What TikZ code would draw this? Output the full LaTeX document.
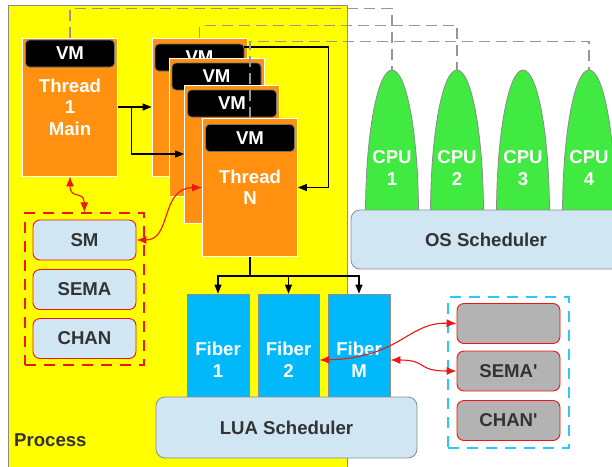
\documentclass[tikz,border=0pt]{standalone}
\usepackage{fontspec}
\setmainfont{Liberation Sans}
\usetikzlibrary{arrows.meta,shapes.geometric,calc}
\definecolor{procYellow}{RGB}{255,255,0}
\definecolor{thrOrange}{RGB}{255,144,16}
\definecolor{cpuGreen}{RGB}{64,234,64}
\definecolor{fibBlue}{RGB}{0,184,250}
\definecolor{schedBlue}{RGB}{208,230,243}
\definecolor{txtGray}{RGB}{51,51,51}
\definecolor{lineGray}{RGB}{140,140,140}
\definecolor{dashGray}{RGB}{150,150,150}
\definecolor{boxGray}{RGB}{179,179,179}
\definecolor{dashCyan}{RGB}{40,200,250}
\definecolor{lineRed}{RGB}{240,20,20}
\newcommand\dfont{\fontsize{18.6}{21.5}\selectfont\bfseries}
\begin{document}
\begin{tikzpicture}[x=1pt,y=-1pt,
  thread/.style={draw=white, line width=0.8pt, fill=thrOrange, minimum width=95pt, minimum height=138pt, inner sep=0pt, text=white, font=\dfont, align=center},
  vmbox/.style={draw=black!55, line width=0.8pt, fill=black, rounded corners=4pt, minimum width=89pt, minimum height=27pt, inner sep=0pt, text=white, font=\dfont},
  cpushape/.style={fill=cpuGreen, draw=lineGray, line width=0.8pt},
  cputext/.style={text=white, font=\dfont, align=center, inner sep=0pt},
  sched/.style={draw=lineGray, line width=0.8pt, fill=schedBlue, rounded corners=9pt, inner sep=0pt, text=txtGray, font=\dfont},
  fiber/.style={draw=lineGray, line width=0.8pt, fill=fibBlue, minimum width=62pt, minimum height=132pt, inner sep=0pt, text=white, font=\dfont, align=center},
  syncbox/.style={draw=lineRed, line width=0.9pt, fill=schedBlue, rounded corners=7pt, minimum width=103pt, minimum height=40pt, inner sep=0pt, text=txtGray, font=\dfont},
  syncgray/.style={syncbox, fill=boxGray},
  group/.style={line width=1.2pt, dash pattern=on 11pt off 8pt, inner sep=0pt},
  dashline/.style={draw=dashGray, line width=1.2pt, dash pattern=on 11pt off 6pt},
  blk/.style={draw=black, line width=1.1pt},
  blkarrow/.style={blk, -{Triangle[length=9pt,width=7pt]}},
  redarr/.style={draw=lineRed, line width=1.1pt, {Latex[length=10pt,width=8pt]}-{Latex[length=10pt,width=8pt]}}
]
\useasboundingbox (0,0) rectangle (612,466);
\clip (0,0) rectangle (612,466);
\fill[white] (0,0) rectangle (612,466);

% process area
\node[draw=lineGray, line width=0.8pt, fill=procYellow, minimum width=339pt, minimum height=480pt, anchor=north west, inner sep=0pt] (process) at (8,5) {};
\node[anchor=west, font=\dfont, text=txtGray, inner sep=0pt] (proclabel) at (14,440) {Process};

% CPUs
\foreach \i/\cx in {1/392,2/457,3/523,4/589}{
  \filldraw[cpushape] ({\cx-26.5},240) -- ({\cx-26.5},215) arc[start angle=180, end angle=0, x radius=26.5pt, y radius=145pt] -- ({\cx+26.5},240) -- cycle;
  \coordinate (cpu\i top) at (\cx,70);
  \node[cputext] (cpu\i) at (\cx,168) {CPU\\\i};
}
\node[sched, minimum width=270pt, minimum height=59pt] (os) at (486,239.5) {OS Scheduler};

% threads
\node[thread] (t1) at (70,107) {Thread\\1\\Main};
\node[vmbox] (vm0) at (70,53.5) {VM};
\node[thread] (b1) at (199.5,107) {};
\node[vmbox] (vm1) at (199.5,57.5) {VM};
\node[thread] (b2) at (216.5,127.5) {};
\node[vmbox] (vm2) at (216.5,76.5) {VM};
\node[thread] (b3) at (232,154) {};
\node[vmbox] (vm3) at (232,103.5) {VM};
\node[thread] (tN) at (250,187.5) {Thread\\N};
\node[vmbox] (vmN) at (250,138) {VM};

% thread connectors
\draw[blkarrow] (t1.east) -- (b1.west);
\draw[blkarrow] ([xshift=14pt]t1.east) |- (b3.west);
\draw[blkarrow] ([yshift=10.5pt]vm1.east) -| ([xshift=31pt]tN.east) -- (tN.east);

% dashed links to CPUs
\draw[dashline] (t1.north) -- ++(0,-29) -| (cpu1top);
\draw[dashline] (b1.north) -- ++(0,-12) -| (cpu2top);
\draw[dashline] (tN.north) -- ++(0,-77) -| (cpu4top);

% sync group (process)
\node[group, draw=lineRed, minimum width=119pt, minimum height=152pt] (smgroup) at (84.5,289) {};
\node[syncbox] (sm) at (84.5,240) {SM};
\node[syncbox] (sema) at (84.5,289.5) {SEMA};
\node[syncbox] (chan) at (84.5,338.5) {CHAN};

\draw[redarr] (t1.south) .. controls (70,200) and (84,190) .. (smgroup.north);
\draw[redarr] (sm.east) .. controls (172,240) and (160,188) .. (tN.west);

% fibers
\node[fiber] (f1) at (218,360) {Fiber\\1};
\node[fiber, minimum width=61pt] (f2) at (288.5,360) {Fiber\\2};
\node[fiber] (fM) at (359,360) {Fiber\\M};
\node[sched, minimum width=261pt, minimum height=61pt] (lua) at (286.5,427.5) {LUA Scheduler};

\coordinate (split) at (250,276);
\draw[blk] (tN.south) -- (split);
\draw[blkarrow] (split) -| (f1.north);
\draw[blkarrow] (split) -| (f2.north);
\draw[blkarrow] (split) -| (fM.north);

% sync group (outside)
\node[group, draw=dashCyan, minimum width=121pt, minimum height=151pt] (extgroup) at (508.5,372.5) {};
\node[syncgray] (g1) at (508.5,323.5) {};
\node[syncgray] (g2) at (508.5,371) {SEMA\textquotesingle};
\node[syncgray] (g3) at (508.5,420.5) {CHAN\textquotesingle};

\draw[redarr] (f2.east) .. controls (400,358) and (408,322) .. (g1.west);
\draw[redarr] (fM.east) .. controls (428,360) and (416,371) .. (g2.west);
\end{tikzpicture}
\end{document}
